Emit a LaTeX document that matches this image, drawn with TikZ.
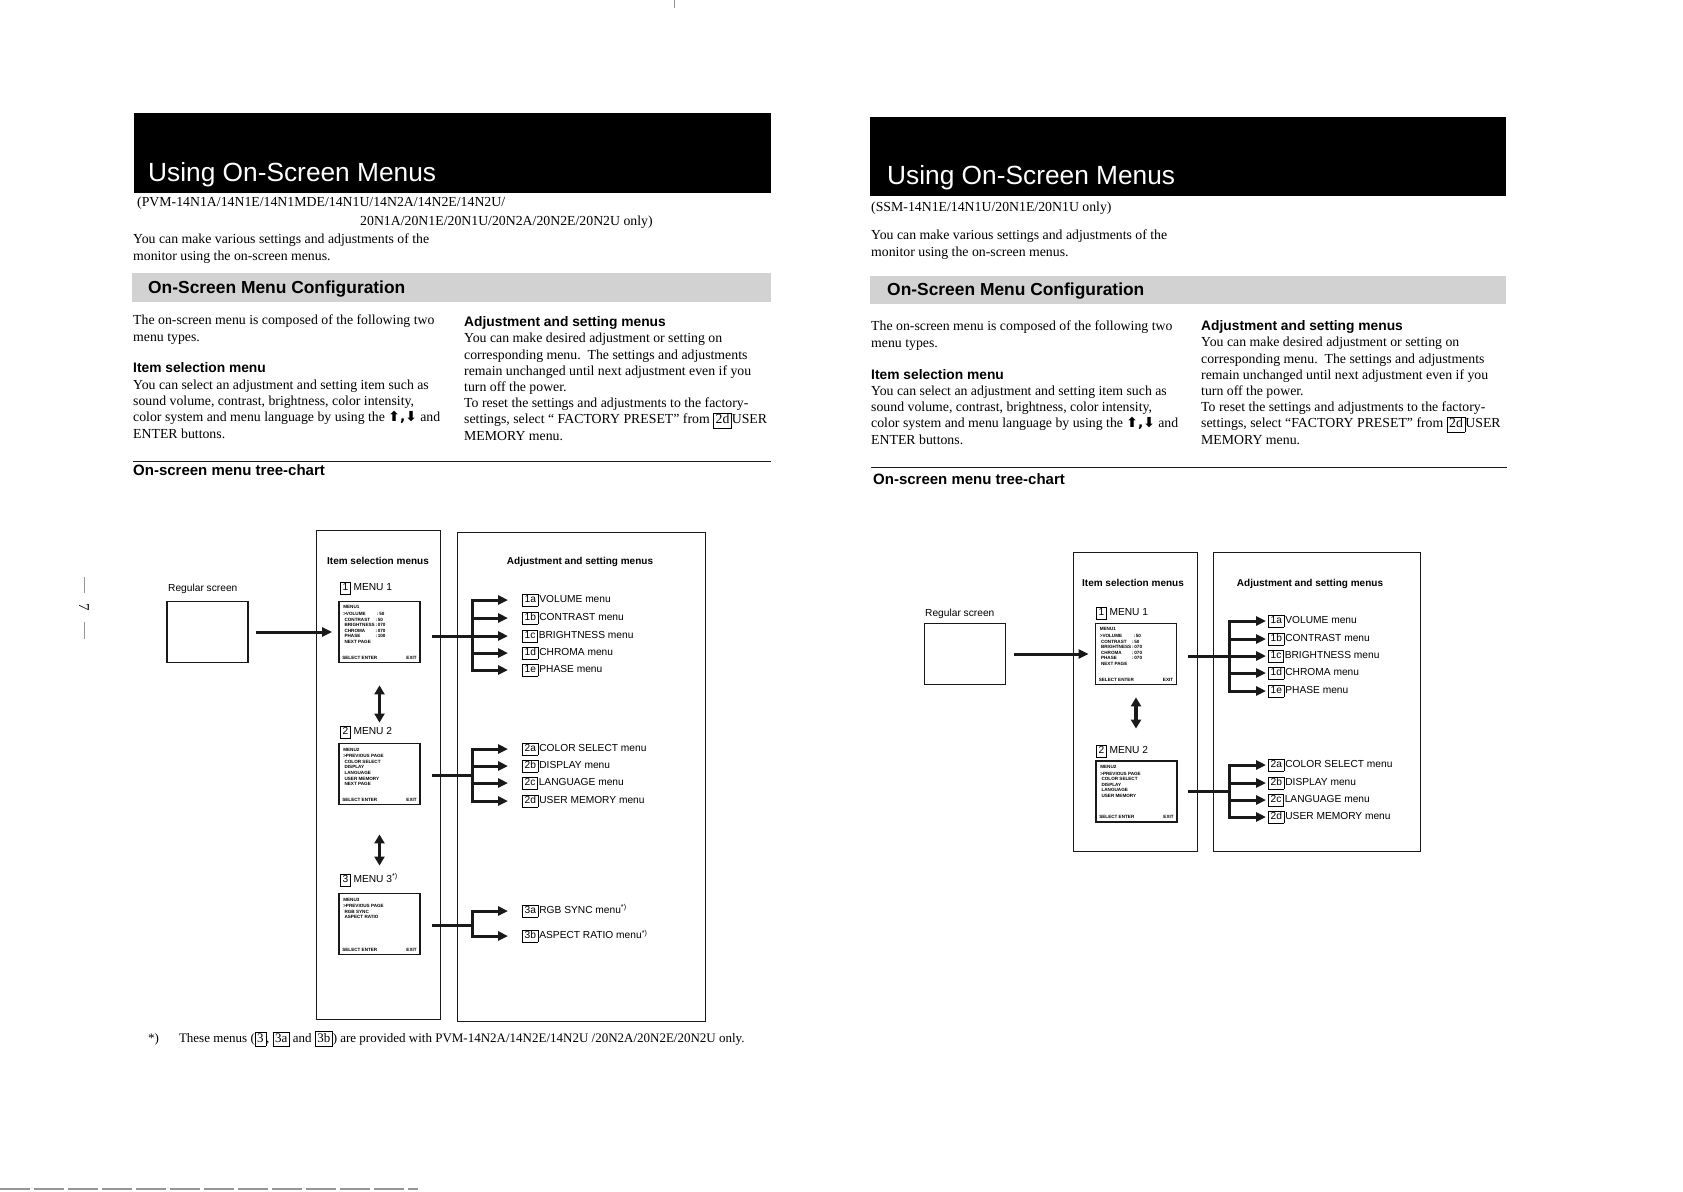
\documentclass[tikz,border=0pt]{standalone}
\usepackage{fontspec}
\setmainfont{Liberation Serif}
\setsansfont{Liberation Sans}
\newfontfamily\symfont{DejaVu Sans}
\usetikzlibrary{arrows.meta,positioning,calc}
\definecolor{ink}{RGB}{25,25,25}
\definecolor{halftone}{RGB}{210,210,210}
\definecolor{scan}{RGB}{150,150,150}
\setlength{\fboxsep}{1pt}
\setlength{\fboxrule}{0.6pt}
\newcommand{\menuid}[1]{\fbox{\kern0.8pt\vphantom{Ag}#1\kern0.8pt}}
\newcommand{\updn}{{\symfont\bfseries ⬆,⬇}}

\begin{document}
\begin{tikzpicture}[x=1pt,y=-1pt,
  txt/.style={anchor=base west,inner sep=0pt,align=left,font=\fontsize{13.8}{16.2}\selectfont},
  hd/.style={anchor=base west,inner sep=0pt,font=\sffamily\bfseries\fontsize{13.8}{16}\selectfont},
  banner/.style={anchor=base west,inner sep=0pt,text=white,font=\sffamily\fontsize{26.3}{30}\selectfont},
  bandtxt/.style={anchor=base west,inner sep=0pt,font=\sffamily\bfseries\fontsize{17.4}{20}\selectfont},
  colhead/.style={inner sep=0pt,font=\sffamily\bfseries\fontsize{10}{12}\selectfont},
  lbl/.style={anchor=west,inner sep=0pt,font=\sffamily\fontsize{10.2}{12}\selectfont},
  frame/.style={draw=ink,line width=0.9pt},
  screen/.style={draw=ink,line width=1.8pt,minimum width=81pt,minimum height=61pt,inner sep=0pt},
  regbox/.style={draw=ink,line width=1.1pt,minimum width=81pt,minimum height=61pt,inner sep=0pt},
  scrtxt/.style={anchor=north west,inner sep=0pt,align=left,font=\sffamily\bfseries\fontsize{4.6}{5.6}\selectfont},
  flow/.style={draw=ink,line width=3pt,-{Triangle[length=10pt,width=9pt]}},
  trunk/.style={draw=ink,line width=3pt,line cap=rect},
  updown/.style={draw=ink,line width=3.2pt,{Triangle[length=9pt,width=10pt]}-{Triangle[length=9pt,width=10pt]}}
]
\useasboundingbox[fill=white] (0,0) rectangle (1683,1191);

% scan marks
\draw[scan,line width=0.8pt] (674,0) -- (674,8);
\draw[scan,line width=1.5pt,dash pattern=on 30pt off 4pt] (0,1189) -- (418,1189);
\draw[scan,line width=0.8pt] (84,577) -- (84,593);
\node[rotate=-90,inner sep=0pt,font=\fontsize{15}{15}\selectfont] (pg) at (84,607) {7};
\draw[scan,line width=0.8pt] (84,622) -- (84,639);

%% left page
\fill[black] (134,113) rectangle (771,193);
\node[banner] (lt) at (148,181) {Using On-Screen Menus};
\node[txt] (lmod) at (137,206) {(PVM-14N1A/14N1E/14N1MDE/14N1U/14N2A/14N2E/14N2U/};
\node[txt] (lmod2) at (360,225) {20N1A/20N1E/20N1U/20N2A/20N2E/20N2U only)};
\node[txt] (lintro) at (133,260) {You can make various settings and adjustments of the\\monitor using the on-screen menus.};
\fill[halftone] (132,273) rectangle (771,302);
\node[bandtxt] (lcfg) at (148,293) {On-Screen Menu Configuration};
\node[txt] (lp1) at (133,341) {The on-screen menu is composed of the following two\\menu types.};
\node[hd] (lh1) at (133,372) {Item selection menu};
\node[txt] (lp2) at (133,438) {You can select an adjustment and setting item such as\\sound volume, contrast, brightness, color intensity,\\color system and menu language by using the \updn\ and\\ENTER buttons.};
\node[hd] (lh2) at (464,326) {Adjustment and setting menus};
\node[txt] (lp3) at (464,440) {You can make desired adjustment or setting on\\corresponding menu.\ \ The settings and adjustments\\remain unchanged until next adjustment even if you\\turn off the power.\\To reset the settings and adjustments to the factory-\\settings, select “ FACTORY PRESET” from \menuid{2d}USER\\MEMORY menu.};
\draw[ink,line width=0.9pt] (133,461) -- (771,461);
\node[hd,font=\sffamily\bfseries\fontsize{15}{17}\selectfont] (ltc) at (133,475) {On-screen menu tree-chart};

% left tree-chart
\draw[frame] (316,530) rectangle (440,1019);
\draw[frame] (457,532) rectangle (705,1021);
\node[colhead] (lish) at (378,561) {Item selection menus};
\node[colhead] (lash) at (580,562) {Adjustment and setting menus};
\node[lbl] (lreglbl) at (168,589) {Regular screen};
\node[regbox] (lreg) at (207.5,632) {};
\node[lbl] (lm1) at (340,588) {\menuid{1} MENU 1};
\node[screen] (ls1) at (379.5,632) {};
\node[lbl] (lm2) at (340,732) {\menuid{2} MENU 2};
\node[screen] (ls2) at (379.5,774) {};
\node[lbl] (lm3) at (340,880) {\menuid{3} MENU 3\textsuperscript{*)}};
\node[screen] (ls3) at (379.5,924) {};
\draw[flow,shorten <=7pt,shorten >=6pt] (lreg) -- (ls1);
\draw[updown,shorten <=22pt,shorten >=3pt] (ls1.south) -- (ls1.south |- lm2.north);
\draw[updown,shorten <=29pt,shorten >=8pt] (ls2.south) -- (ls2.south |- lm3.north);

\node[scrtxt] (ls1t) at ($(ls1.north west)+(5,5)$) {MENU1\\[1pt]>\makebox[31pt][l]{VOLUME}:\,50\\\ \makebox[31pt][l]{CONTRAST}:\,50\\\ \makebox[31pt][l]{BRIGHTNESS}:\,070\\\ \makebox[31pt][l]{CHROMA}:\,070\\\ \makebox[31pt][l]{PHASE}:\,100\\\ NEXT PAGE};
\node[scrtxt] (ls2t) at ($(ls2.north west)+(5,5)$) {MENU2\\[1pt]>PREVIOUS PAGE\\\ COLOR SELECT\\\ DISPLAY\\\ LANGUAGE\\\ USER MEMORY\\\ NEXT PAGE};
\node[scrtxt] (ls3t) at ($(ls3.north west)+(5,5)$) {MENU3\\[1pt]>PREVIOUS PAGE\\\ RGB SYNC\\\ ASPECT RATIO};

\coordinate (lj1) at (472,636);
\coordinate (lj2) at (472,775);
\coordinate (lj3) at (472,925);
\draw[trunk,shorten <=13pt] (ls1.east |- lj1) -- (lj1);
\draw[trunk,shorten <=13pt] (ls2.east |- lj2) -- (lj2);
\draw[trunk,shorten <=13pt] (ls3.east |- lj3) -- (lj3);
\foreach \id/\txt/\y in {1a/VOLUME menu/600,1b/CONTRAST menu/618,1c/BRIGHTNESS menu/636,1d/CHROMA menu/653,1e/PHASE menu/670,
    2a/COLOR SELECT menu/749,2b/DISPLAY menu/766,2c/LANGUAGE menu/783,2d/USER MEMORY menu/801,
    3a/{RGB SYNC menu\textsuperscript{*)}}/911,3b/{ASPECT RATIO menu\textsuperscript{*)}}/936}{
  \node[lbl] (l\id) at (522,\y) {\menuid{\id}\kern1pt\txt};
}
\draw[trunk] (lj1 |- l1a) -- (lj1 |- l1e);
\draw[trunk] (lj2 |- l2a) -- (lj2 |- l2d);
\draw[trunk] (lj3 |- l3a) -- (lj3 |- l3b);
\foreach \id in {1a,1b,1c,1d,1e,2a,2b,2c,2d,3a,3b}
  \draw[flow,shorten >=14pt] (lj1 |- l\id.west) -- (l\id.west);

\node[txt,font=\fontsize{13}{15}\selectfont] (lfn) at (148,1042) {*)\hspace{20pt}These menus (\menuid{3}, \menuid{3a} and \menuid{3b}) are provided with PVM-14N2A/14N2E/14N2U /20N2A/20N2E/20N2U only.};

%% right page
\fill[black] (870,117) rectangle (1506,196);
\node[banner] (rt) at (887,184) {Using On-Screen Menus};
\node[txt] (rmod) at (871,211) {(SSM-14N1E/14N1U/20N1E/20N1U only)};
\node[txt] (rintro) at (871,256) {You can make various settings and adjustments of the\\monitor using the on-screen menus.};
\fill[halftone] (870,276) rectangle (1506,304);
\node[bandtxt] (rcfg) at (887,295) {On-Screen Menu Configuration};
\node[txt] (rp1) at (871,347) {The on-screen menu is composed of the following two\\menu types.};
\node[hd] (rh1) at (871,379) {Item selection menu};
\node[txt] (rp2) at (871,444) {You can select an adjustment and setting item such as\\sound volume, contrast, brightness, color intensity,\\color system and menu language by using the \updn\ and\\ENTER buttons.};
\node[hd] (rh2) at (1201,330) {Adjustment and setting menus};
\node[txt] (rp3) at (1201,444) {You can make desired adjustment or setting on\\corresponding menu.\ \ The settings and adjustments\\remain unchanged until next adjustment even if you\\turn off the power.\\To reset the settings and adjustments to the factory-\\settings, select “FACTORY PRESET” from \menuid{2d}USER\\MEMORY menu.};
\draw[ink,line width=0.9pt] (871,467) -- (1507,467);
\node[hd,font=\sffamily\bfseries\fontsize{15}{17}\selectfont] (rtc) at (873,484) {On-screen menu tree-chart};

% right tree-chart
\draw[frame] (1073,552) rectangle (1197,851);
\draw[frame] (1213,552) rectangle (1420,851);
\node[colhead] (rish) at (1133,583) {Item selection menus};
\node[colhead] (rash) at (1310,584) {Adjustment and setting menus};
\node[lbl] (rreglbl) at (925,614) {Regular screen};
\node[regbox] (rreg) at (965,654) {};
\node[lbl] (rm1) at (1096,613) {\menuid{1} MENU 1};
\node[screen] (rs1) at (1136,654) {};
\node[lbl] (rm2) at (1096,751) {\menuid{2} MENU 2};
\node[screen] (rs2) at (1136.5,791.5) {};
\draw[flow,shorten <=8pt,shorten >=6pt] (rreg) -- (rs1);
\draw[updown,shorten <=12pt,shorten >=16pt] (rs1.south) -- (rs1.south |- rm2.north);

\node[scrtxt] (rs1t) at ($(rs1.north west)+(5,5)$) {MENU1\\[1pt]>\makebox[31pt][l]{VOLUME}:\,50\\\ \makebox[31pt][l]{CONTRAST}:\,50\\\ \makebox[31pt][l]{BRIGHTNESS}:\,070\\\ \makebox[31pt][l]{CHROMA}:\,070\\\ \makebox[31pt][l]{PHASE}:\,070\\\ NEXT PAGE};
\node[scrtxt] (rs2t) at ($(rs2.north west)+(5,5)$) {MENU2\\[1pt]>PREVIOUS PAGE\\\ COLOR SELECT\\\ DISPLAY\\\ LANGUAGE\\\ USER MEMORY};

\foreach \s in {ls1,ls2,ls3,rs1,rs2}{
  \node[scrtxt,anchor=south west] (\s b) at ($(\s.south west)+(4,-4)$) {SELECT ENTER};
  \node[scrtxt,anchor=south east] (\s e) at ($(\s.south east)+(-4,-4)$) {EXIT};
}

\coordinate (rj1) at (1229,656);
\coordinate (rj2) at (1229,791);
\draw[trunk,shorten <=12pt] (rs1.east |- rj1) -- (rj1);
\draw[trunk,shorten <=12pt] (rs2.east |- rj2) -- (rj2);
\foreach \id/\txt/\y in {1a/VOLUME menu/621,1b/CONTRAST menu/639,1c/BRIGHTNESS menu/656,1d/CHROMA menu/673,1e/PHASE menu/691,
    2a/COLOR SELECT menu/765,2b/DISPLAY menu/783,2c/LANGUAGE menu/800,2d/USER MEMORY menu/817}{
  \node[lbl] (r\id) at (1268,\y) {\menuid{\id}\kern1pt\txt};
}
\draw[trunk] (rj1 |- r1a) -- (rj1 |- r1e);
\draw[trunk] (rj2 |- r2a) -- (rj2 |- r2d);
\foreach \id in {1a,1b,1c,1d,1e,2a,2b,2c,2d}
  \draw[flow,shorten >=2pt] (rj1 |- r\id.west) -- (r\id.west);
\end{tikzpicture}
\end{document}
